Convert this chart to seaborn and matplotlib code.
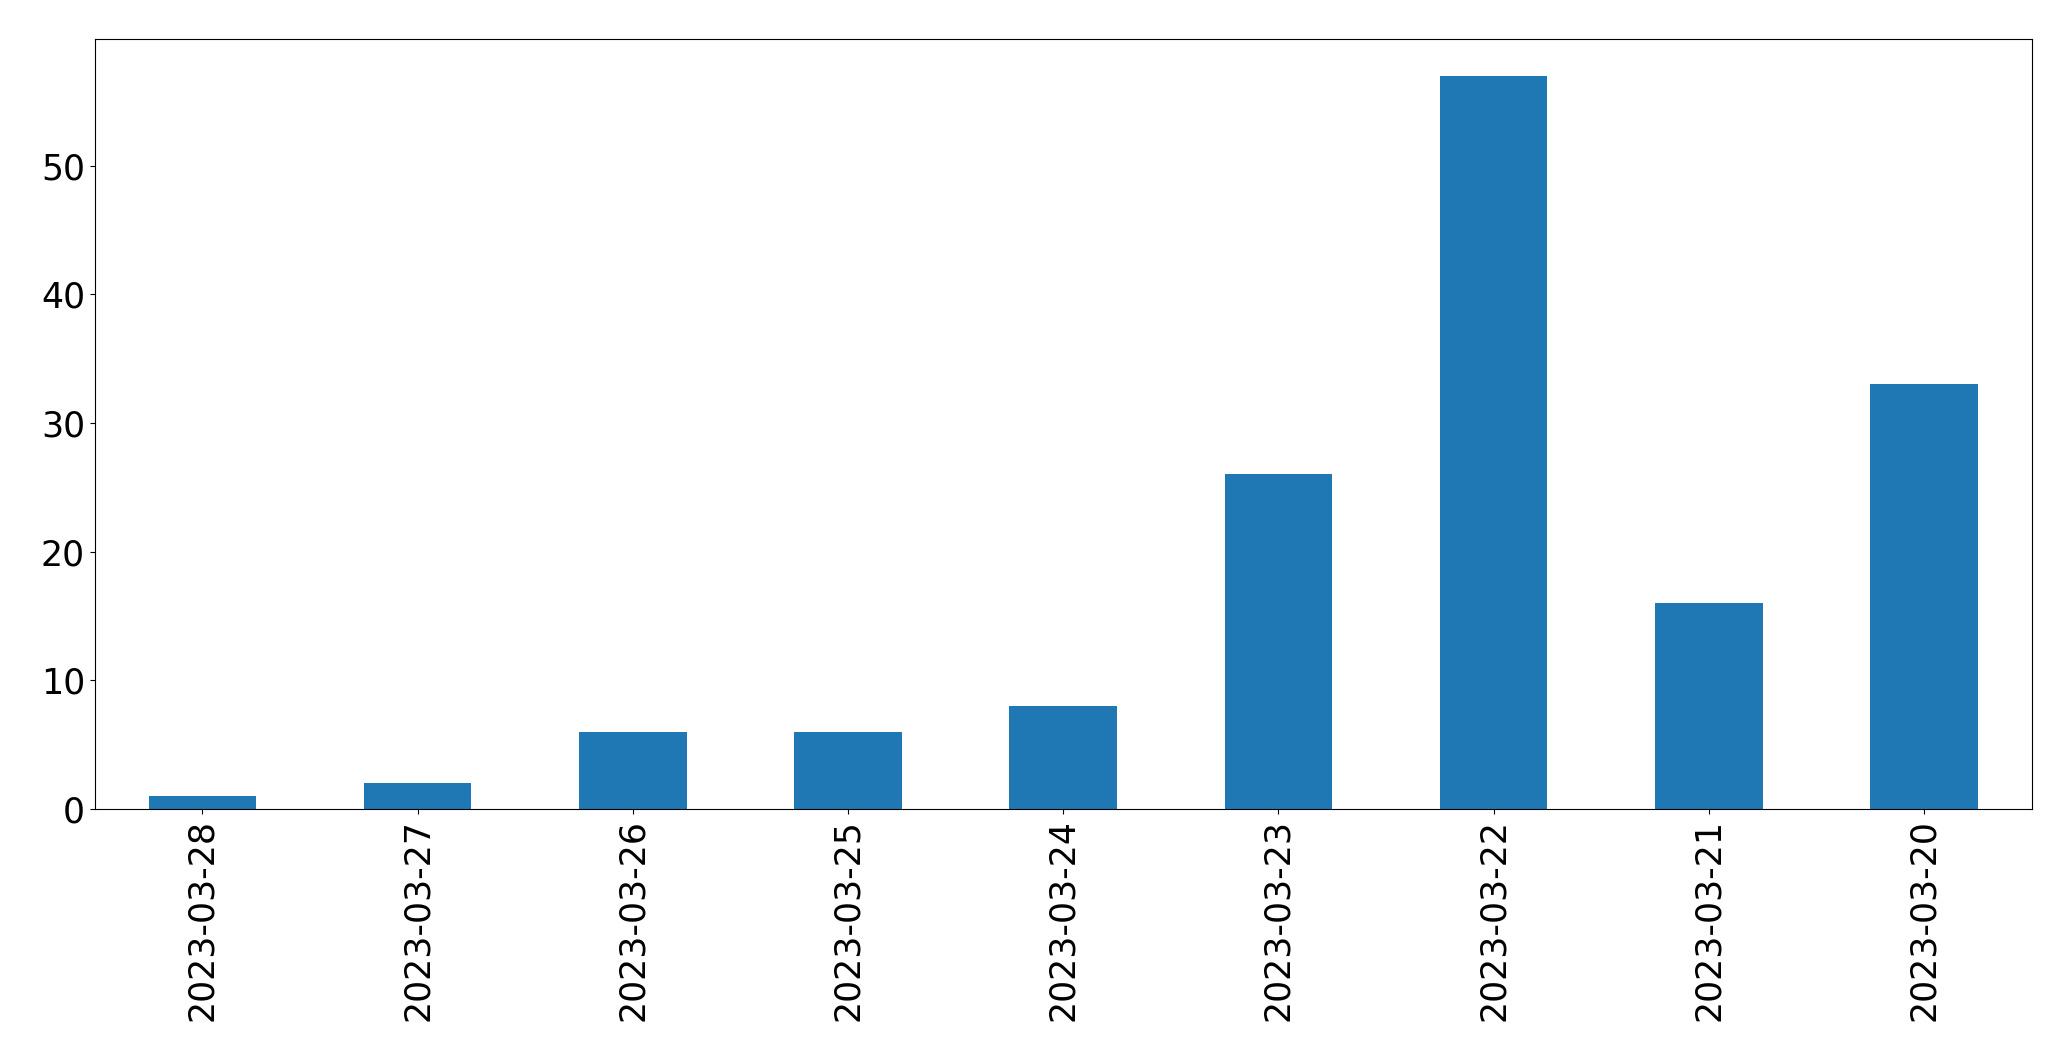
import matplotlib
matplotlib.use("Agg")
import matplotlib.pyplot as plt
import seaborn as sns
import pandas as pd

dates = ["2023-03-28", "2023-03-27", "2023-03-26", "2023-03-25", "2023-03-24",
         "2023-03-23", "2023-03-22", "2023-03-21", "2023-03-20"]
counts = [1, 2, 6, 6, 8, 26, 57, 16, 33]

df = pd.DataFrame({"date": dates, "count": counts})

fig = plt.figure(figsize=(20.71, 10.61), dpi=100)
ax = fig.add_axes([94.7 / 2071, 1 - 809 / 1061, (2031.7 - 94.7) / 2071, (809 - 39) / 1061])
sns.barplot(data=df, x="date", y="count", order=dates, color="#1f77b4",
            saturation=1, width=0.5, ax=ax)
ax.set_xlim(-0.5, len(dates) - 0.5)
ax.set_ylim(0, max(counts) * 1.05)
ax.set_xlabel("")
ax.set_ylabel("")
ax.tick_params(axis="both", labelsize=25)
for lab in ax.get_xticklabels():
    lab.set_rotation(90)
fig.savefig("out.png", dpi=100)
